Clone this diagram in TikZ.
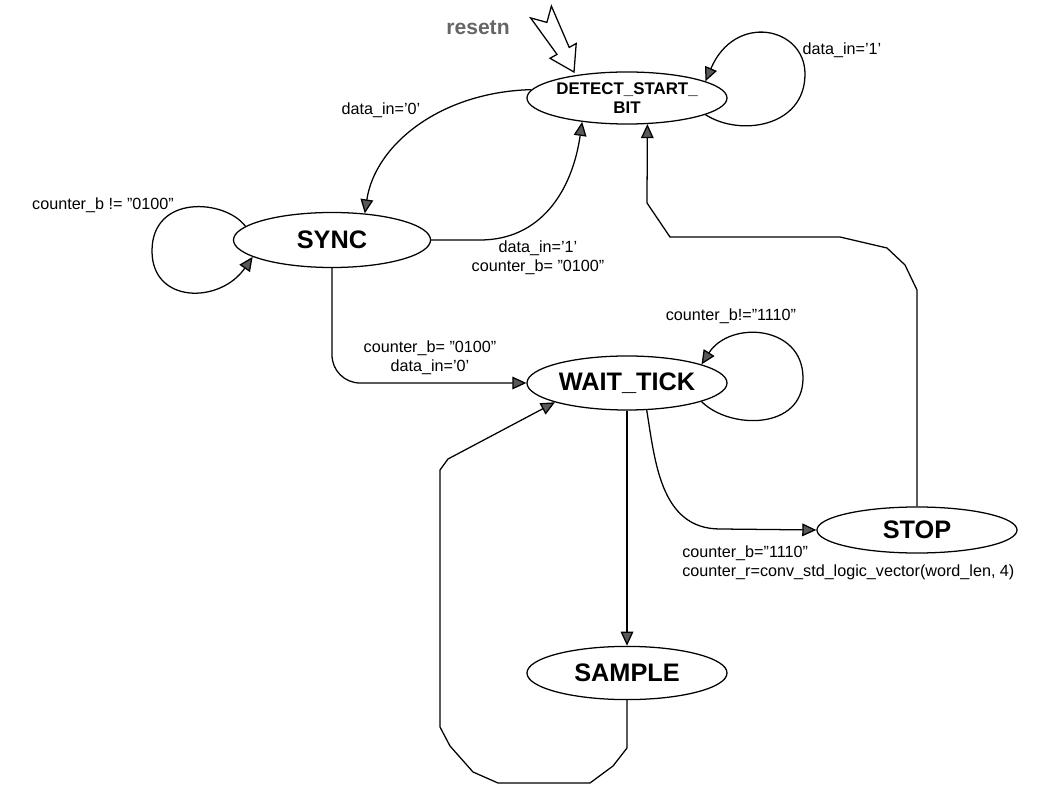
\documentclass[tikz,border=0pt]{standalone}
\usepackage{fontspec}
\setmainfont{Liberation Sans}
\usetikzlibrary{arrows.meta,positioning,shapes.geometric}

\begin{document}
\begin{tikzpicture}[
  x=0.025cm, y=-0.025cm,
  state/.style={draw, ellipse, line width=0.9pt, inner sep=0pt, minimum width=5cm, minimum height=1.35cm, font=\fontsize{18}{20}\selectfont\bfseries},
  cond/.style={inner sep=0pt, align=center, font=\fontsize{11.5}{13.5}\selectfont},
  arrow/.style={-{Triangle[length=10pt,width=9pt,fill=black!65]}, line width=0.9pt},
  wire/.style={line width=0.9pt}
]
  \useasboundingbox (0,0) rectangle (1054,787);

  \node[state, align=center, minimum height=1.3cm, font=\fontsize{12}{13}\selectfont\bfseries] (det) at (627,98) {DETECT\_START\_\\BIT};
  \node[state, minimum width=4.925cm, minimum height=1.375cm] (sync) at (332,240) {SYNC};
  \node[state] (wait) at (627,383) {WAIT\_TICK};
  \node[state, minimum height=1.15cm] (stop) at (917,530) {STOP};
  \node[state, minimum height=1.33cm] (sample) at (627,673) {SAMPLE};

  \node[inner sep=0pt, text=black!60, font=\fontsize{15}{17}\selectfont\bfseries] (lreset) at (478,28) {resetn};
  \node[cond] (ldetloop) at (842,50) {data\_in='1'};
  \node[cond] (ldetsync) at (381,110) {data\_in='0'};
  \node[cond] (lsyncloop) at (103,205) {counter\_b != "0100"};
  \node[cond] (lsyncdet) at (538,258) {data\_in='1'\\counter\_b= "0100"};
  \node[cond] (lsyncwait) at (430,358) {counter\_b= "0100"\\data\_in='0'};
  \node[cond] (lwaitloop) at (731,316) {counter\_b!="1110"};
  \node[cond, align=left, anchor=west] (lwaitstop) at (682,563) {counter\_b="1110"\\counter\_r=conv\_std\_logic\_vector(word\_len, 4)};

  \draw[wire, fill=white] (574,72) -- (550,58.3) -- (557,54.4) -- (530.6,17.9) -- (546.9,22.4) -- (551.4,6.1) -- (569.2,47.4) -- (576.2,43.5) -- cycle;

  \draw[arrow] (det.-12) .. controls (740,137) and (805,127) .. (805,74) .. controls (805,27) and (735,12) .. (det.12);
  \draw[arrow] (det.175) .. controls (440,92) and (375,145) .. (sync.39);
  \draw[arrow] (sync.east) -- (480,240) .. controls (540,240) and (572,192) .. (det.208);
  \draw[arrow] (sync.171) .. controls (225,199) and (152,194) .. (152,251) .. controls (152,304) and (220,304) .. (sync.192);
  \draw[arrow, rounded corners=7mm] (sync.south) |- (wait.west);
  \draw[arrow] (wait.-14) .. controls (730,430) and (803,430) .. (803,378) .. controls (803,325) and (730,320) .. (wait.14);
  \draw[arrow] (wait.-54) .. controls (655,460) and (660,529) .. (720,529) -- (stop.west);
  \draw[arrow] (wait) -- (sample);
  \draw[arrow] (sample.south) -- (627,748) -- (613,766) -- (590,783) -- (498,783) -- (473,772) -- (450,746) -- (440,727) -- (440,470) -- (448,459) -- (wait.195);
  \draw[arrow] (stop.north) -- (917,290) -- (905,265) -- (887,248) -- (840,237) -- (670,237) -- (647,203) -- (det.-52);
\end{tikzpicture}
\end{document}
